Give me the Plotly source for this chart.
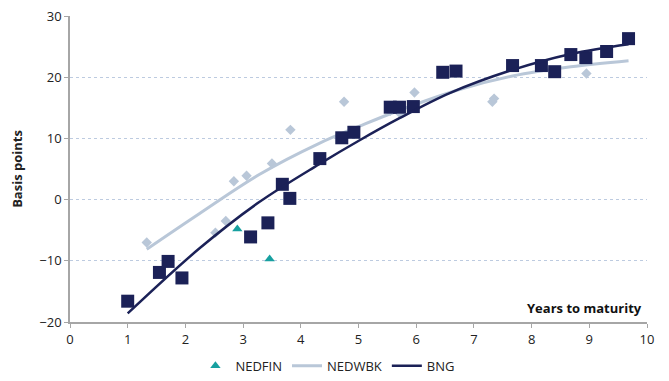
import plotly.graph_objects as go

# NEDFIN bonds
nedfin_x = [2.90, 3.46]
nedfin_y = [-4.8, -9.7]

# NEDWBK bonds
nedwbk_x = [1.33, 2.52, 2.70, 2.84, 3.06, 3.50, 3.82, 4.75, 5.55, 5.73, 5.97, 7.32, 7.35, 8.95]
nedwbk_y = [-7.0, -5.4, -3.5, 3.0, 3.9, 5.9, 11.4, 16.0, 14.5, 14.0, 17.5, 16.0, 16.5, 20.6]

# BNG bonds
bng_x = [1.00, 1.55, 1.70, 1.94, 3.13, 3.43, 3.68, 3.81, 4.33, 4.71, 4.92, 5.55, 5.71, 5.95,
         6.46, 6.69, 7.67, 8.17, 8.40, 8.68, 8.94, 9.30, 9.68]
bng_y = [-16.6, -11.9, -10.1, -12.8, -6.1, -3.8, 2.5, 0.2, 6.7, 10.1, 11.0, 15.1, 15.1, 15.2,
         20.8, 21.0, 21.9, 21.9, 20.9, 23.7, 23.2, 24.2, 26.3]

# Trend curves
nedwbk_fit_x = [1.33, 2.24, 3.28, 4.32, 5.02, 5.71, 6.75, 7.67, 8.68, 9.68]
nedwbk_fit_y = [-8.1, -2.3, 4.1, 9.2, 12.0, 14.6, 18.0, 20.2, 21.7, 22.7]

bng_fit_x = [1.00, 2.24, 3.28, 4.32, 5.02, 5.71, 6.58, 7.67, 8.68, 9.68]
bng_fit_y = [-18.6, -8.0, -0.4, 5.8, 9.7, 13.3, 17.4, 21.2, 23.8, 25.4]

x_ticks = list(range(0, 11))
y_ticks = [-20, -10, 0, 10, 20, 30]

NAVY = "#1B2157"
LIGHT = "#B9C7D8"
TEAL = "#17A0A0"
FONT = "Open Sans"

fig = go.Figure()

fig.add_trace(go.Scatter(
    x=nedwbk_x, y=nedwbk_y, mode="markers", showlegend=False,
    marker=dict(symbol="diamond", size=8, color=LIGHT), hoverinfo="skip"))
fig.add_trace(go.Scatter(
    x=nedfin_x, y=nedfin_y, mode="markers", name="NEDFIN",
    marker=dict(symbol="triangle-up", size=9, color=TEAL)))
fig.add_trace(go.Scatter(
    x=nedwbk_fit_x, y=nedwbk_fit_y, mode="lines", name="NEDWBK",
    line=dict(color=LIGHT, width=3, shape="spline")))
fig.add_trace(go.Scatter(
    x=bng_x, y=bng_y, mode="markers", showlegend=False,
    marker=dict(symbol="square", size=13, color=NAVY)))
fig.add_trace(go.Scatter(
    x=bng_fit_x, y=bng_fit_y, mode="lines", name="BNG",
    line=dict(color=NAVY, width=2.5, shape="spline")))

fig.update_layout(
    width=669, height=381,
    margin=dict(l=70, r=22, t=16, b=59, autoexpand=False),
    paper_bgcolor="white", plot_bgcolor="white",
    font=dict(family=FONT, size=13, color="#222222"),
    legend=dict(orientation="h", x=0.447, xanchor="center",
                yref="container", y=0.04, yanchor="middle",
                font=dict(size=13), itemwidth=30, traceorder="normal",
                tracegroupgap=0),
    xaxis=dict(range=[0, 10], tickvals=x_ticks, showgrid=False, zeroline=False,
               showline=True, linecolor="#A6A6A6", linewidth=2,
               ticks="outside", ticklen=4, tickcolor="#A6A6A6",
               tickfont=dict(size=13, color="#222222")),
    yaxis=dict(range=[-20, 30], tickvals=y_ticks, showgrid=True,
               gridcolor="#BDCBE0", griddash="3px,3px", gridwidth=1, zeroline=False,
               showline=True, linecolor="#A6A6A6", linewidth=1.5,
               ticks="outside", ticklen=4, tickcolor="#A6A6A6",
               tickfont=dict(size=13, color="#222222"),
               title=dict(text="<b>Basis points</b>", font=dict(size=13), standoff=14)),
    annotations=[dict(text="<b>Years to maturity</b>", xref="paper", x=0.995,
                      xanchor="right", yref="y", y=-20, yanchor="bottom", yshift=3,
                      showarrow=False, font=dict(size=13, color="#111111"))],
)

fig.write_html("out.html")
